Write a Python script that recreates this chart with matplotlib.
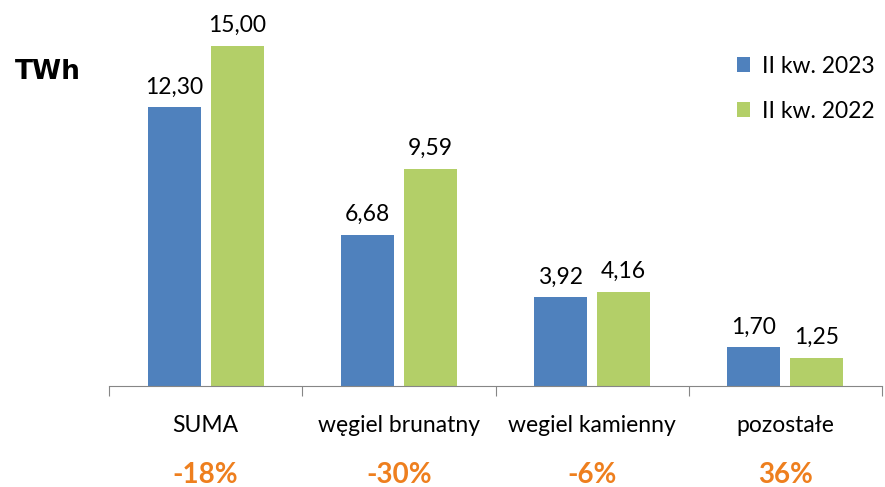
import matplotlib
matplotlib.use("Agg")
import matplotlib.pyplot as plt
import numpy as np

categories = ["SUMA", "węgiel brunatny", "wegiel kamienny", "pozostałe"]
q2_2023 = [12.30, 6.68, 3.92, 1.70]
q2_2022 = [15.00, 9.59, 4.16, 1.25]
changes = ["-18%", "-30%", "-6%", "36%"]
series_names = ["II kw. 2023", "II kw. 2022"]

blue = "#4F81BD"
green = "#B3CF68"
orange = "#EE7F1E"
font = ["Lato", "DejaVu Sans"]

fig = plt.figure(figsize=(8.85, 4.87), dpi=100)
W, H = 885, 487
ax = fig.add_axes([109 / W, (H - 386) / H, (882 - 109) / W, (386 - 46) / H])

x = np.arange(len(categories))
bw = 0.274
off = 0.163
b1 = ax.bar(x - off, q2_2023, bw, color=blue, label=series_names[0])
b2 = ax.bar(x + off, q2_2022, bw, color=green, label=series_names[1])

for bars, vals in ((b1, q2_2023), (b2, q2_2022)):
    for r, v in zip(bars, vals):
        ax.annotate(f"{v:.2f}".replace(".", ","), (r.get_x() + r.get_width() / 2, v),
                    xytext=(0, 7), textcoords="offset points", ha="center", va="bottom",
                    fontsize=16.5, family=font, color="#000000", annotation_clip=False)

ax.set_xlim(-0.5, len(categories) - 0.5)
ax.set_ylim(0, 15)
for s in ("top", "right", "left"):
    ax.spines[s].set_visible(False)
ax.spines["bottom"].set_color("#868686")
ax.set_yticks([])
ax.set_xticks(np.arange(-0.5, len(categories), 1.0))
ax.set_xticklabels([])
ax.tick_params(axis="x", length=7, color="#868686", direction="out")

for i, c in enumerate(categories):
    ax.text(i, -40 / 22.67, c, ha="center", va="center", fontsize=16.5, family=font)
    ax.text(i, -89 / 22.67, changes[i], ha="center", va="center", fontsize=20,
            family=font, fontweight="bold", color=orange)

fig.text(15 / W, 1 - 72 / H, "TWh", fontsize=19, fontweight="bold", family="DejaVu Sans",
         ha="left", va="center")

leg = fig.legend(handles=[b1, b2], labels=series_names, loc="upper left",
                 bbox_to_anchor=(716 / W, 1 - 35 / H), frameon=False,
                 prop={"family": font, "size": 16.5}, handlelength=0.6, handleheight=0.6,
                 handletextpad=0.5, labelspacing=1.05)

fig.savefig("out.png", dpi=100)
